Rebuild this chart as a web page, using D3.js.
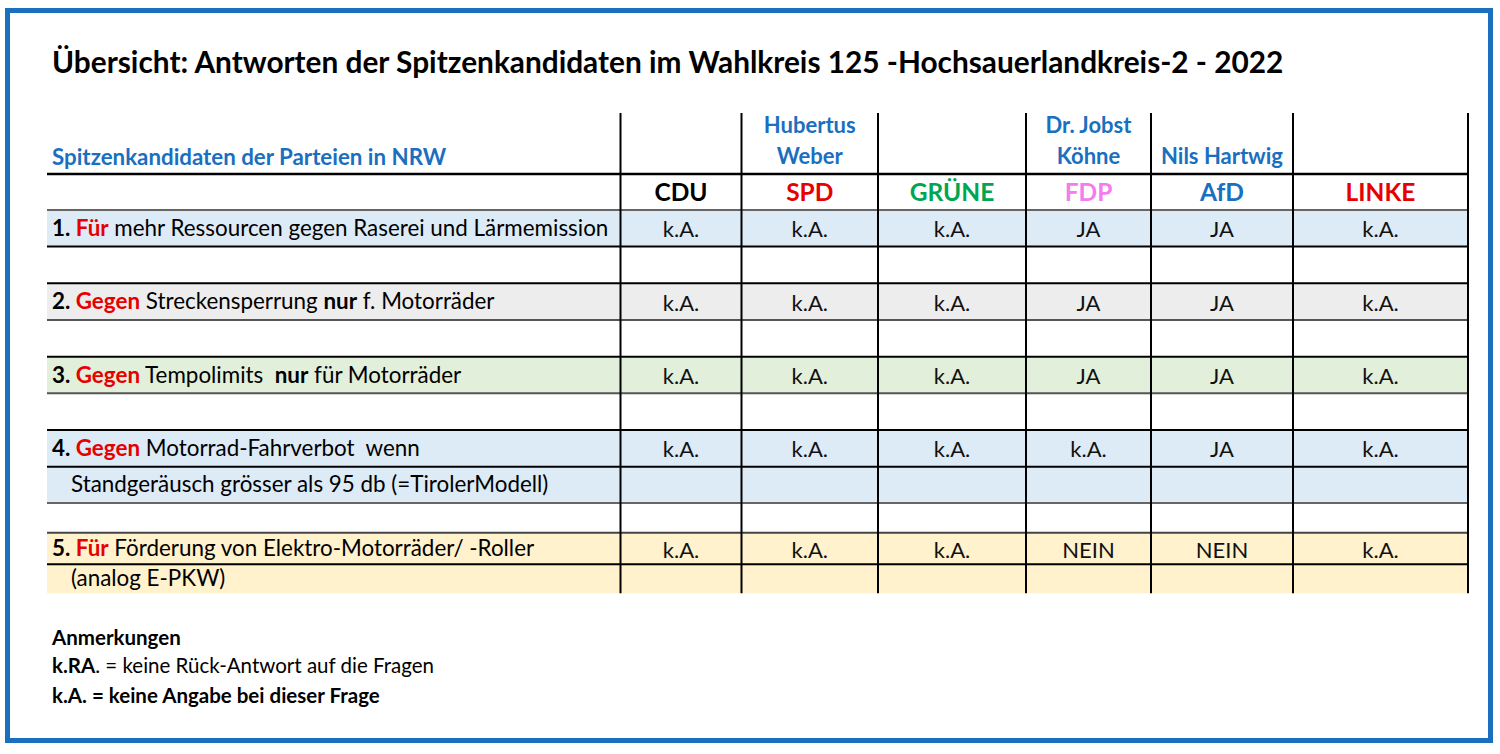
<!DOCTYPE html>
<html>
<head>
<meta charset="utf-8">
<script src="https://d3js.org/d3.v7.min.js"></script>
<style>
  body { margin: 0; background: #fff; }
  svg { display: block; font-family: Lato, "Open Sans", sans-serif; }
</style>
</head>
<body>
<script>
// --- Daten ---
var title = "Übersicht: Antworten der Spitzenkandidaten im Wahlkreis 125 -Hochsauerlandkreis-2 - 2022";
var headLabel = "Spitzenkandidaten der Parteien in NRW";
var parties = ["CDU", "SPD", "GRÜNE", "FDP", "AfD", "LINKE"];
var candidates = [[], ["Hubertus", "Weber"], [], ["Dr. Jobst", "Köhne"], ["Nils Hartwig"], []];
var qNumbers = ["1.", "2.", "3.", "4.", "5."];
var qKeywords = ["Für", "Gegen", "Gegen", "Gegen", "Für"];
var qTexts = [
  " mehr Ressourcen gegen Raserei und Lärmemission",
  " Streckensperrung *nur* f. Motorräder",
  " Tempolimits  *nur* für Motorräder",
  " Motorrad-Fahrverbot  wenn",
  " Förderung von Elektro-Motorräder/ -Roller"
];
var qSubs = [null, null, null, "Standgeräusch grösser als 95 db (=TirolerModell)", "(analog E-PKW)"];
var answers = [
  ["k.A.", "k.A.", "k.A.", "JA", "JA", "k.A."],
  ["k.A.", "k.A.", "k.A.", "JA", "JA", "k.A."],
  ["k.A.", "k.A.", "k.A.", "JA", "JA", "k.A."],
  ["k.A.", "k.A.", "k.A.", "k.A.", "JA", "k.A."],
  ["k.A.", "k.A.", "k.A.", "NEIN", "NEIN", "k.A."]
];
var notes = [
  [["k.RA", true], [". = keine Rück-Antwort auf die Fragen", false]],
  [["k.A. = keine Angabe bei dieser Frage", true]]
];

// --- Layout ---
var W = 1500, H = 754;
var left = 47;
var colEdges = [620.5, 741.5, 878, 1026, 1151, 1293, 1468];
var rowEdges = [174, 210, 246.5, 283.3, 320, 356.7, 393.3, 430, 466.7, 503, 532.7, 564.3, 593.3];
var rowFill = ["none", "#DDEBF7", "none", "#EDEDED", "none", "#E2EFDA", "none", "#DDEBF7", "#DDEBF7", "none", "#FFF2CC", "#FFF2CC"];
var lineColor = ["#000", "#666", "#000", "#000", "#555", "#000", "#555", "#000", "#000", "#666", "#444", "#000"];
// Zeile (index in rowEdges) je Frage
var qRow = [1, 3, 5, 7, 10];

var partyColor = d3.scaleOrdinal(parties, ["#000000", "#E60000", "#00A54F", "#F57BEF", "#1A6FBF", "#E60000"]);
var xCenter = d3.scaleOrdinal(parties, parties.map(function(p, i){ return (colEdges[i] + colEdges[i + 1]) / 2; }));
function rowMid(r){ return (rowEdges[r] + rowEdges[r + 1]) / 2; }

var blue = "#1A6FBF", red = "#E60000";

var svg = d3.select("body").append("svg").attr("width", W).attr("height", H);

// Rahmen
svg.append("rect").attr("x", 7.5).attr("y", 10.5).attr("width", 1483).attr("height", 730)
  .attr("fill", "none").attr("stroke", blue).attr("stroke-width", 5);

// Titel
svg.append("text").attr("x", 52).attr("y", 72.5).attr("font-size", 29.8).attr("font-weight", 700)
  .attr("fill", "#000").text(title);

// Zeilenfüllungen
svg.selectAll("rect.fill").data(rowFill).enter().append("rect")
  .attr("class", "fill")
  .attr("x", left).attr("width", colEdges[colEdges.length - 1] - left)
  .attr("y", function(d, i){ return rowEdges[i]; })
  .attr("height", function(d, i){ return rowEdges[i + 1] - rowEdges[i]; })
  .attr("fill", function(d){ return d === "none" ? "#fff" : d; });

// horizontale Linien
svg.selectAll("line.h").data(rowEdges.slice(0, -1)).enter().append("line")
  .attr("class", "h")
  .attr("x1", left).attr("x2", colEdges[colEdges.length - 1])
  .attr("y1", function(d){ return d; }).attr("y2", function(d){ return d; })
  .attr("stroke", function(d, i){ return lineColor[i]; })
  .attr("stroke-width", function(d, i){ return i === 0 ? 2.5 : 2; });

// vertikale Linien
svg.selectAll("line.v").data(colEdges).enter().append("line")
  .attr("class", "v")
  .attr("x1", function(d){ return d; }).attr("x2", function(d){ return d; })
  .attr("y1", 113).attr("y2", rowEdges[rowEdges.length - 1])
  .attr("stroke", "#000").attr("stroke-width", 2);

// Kopfzeile
svg.append("text").attr("x", 52).attr("y", 165).attr("font-size", 22.3).attr("font-weight", 700)
  .attr("fill", blue).text(headLabel);

svg.selectAll("g.cand").data(candidates).enter().append("g").attr("class", "cand")
  .each(function(lines, i){
    var g = d3.select(this);
    var base = lines.length === 2 ? 133 : 164;
    lines.forEach(function(t, k){
      g.append("text").attr("x", xCenter(parties[i])).attr("y", base + k * 31)
        .attr("text-anchor", "middle").attr("font-size", 22).attr("font-weight", 700)
        .attr("fill", blue).text(t);
    });
  });

svg.selectAll("text.party").data(parties).enter().append("text").attr("class", "party")
  .attr("x", function(d){ return xCenter(d); }).attr("y", 201)
  .attr("text-anchor", "middle").attr("font-size", 24.5).attr("font-weight", 700)
  .attr("fill", function(d){ return partyColor(d); }).text(function(d){ return d; });

// Fragen
qNumbers.forEach(function(num, qi){
  var r = qRow[qi];
  var t = svg.append("text").attr("x", 52).attr("y", rowMid(r) + 7.5)
    .attr("font-size", 22.4).attr("fill", "#000").attr("xml:space", "preserve");
  t.append("tspan").attr("font-weight", 700).text(num + " ");
  t.append("tspan").attr("font-weight", 700).attr("fill", red).text(qKeywords[qi]);
  qTexts[qi].split("*").forEach(function(seg, k){
    if (seg) t.append("tspan").attr("font-weight", k % 2 ? 700 : 400).text(seg);
  });
  if (qSubs[qi]) {
    svg.append("text").attr("x", 71).attr("y", rowMid(r + 1) + 7.5)
      .attr("font-size", 22.4).attr("fill", "#000").text(qSubs[qi]);
  }
  svg.selectAll(null).data(answers[qi]).enter().append("text")
    .attr("x", function(d, i){ return xCenter(parties[i]); })
    .attr("y", rowMid(r) + 9)
    .attr("text-anchor", "middle").attr("font-size", 22).attr("fill", "#111")
    .text(function(d){ return d; });
});

// Anmerkungen
svg.append("text").attr("x", 52).attr("y", 644.5).attr("font-size", 20.5).attr("font-weight", 700)
  .attr("fill", "#000").text("Anmerkungen");
notes.forEach(function(parts, i){
  var t = svg.append("text").attr("x", 52).attr("y", 672.5 + i * 30).attr("font-size", 20.5).attr("fill", "#000");
  parts.forEach(function(p){
    t.append("tspan").attr("font-weight", p[1] ? 700 : 400).text(p[0]);
  });
});
</script>
</body>
</html>
